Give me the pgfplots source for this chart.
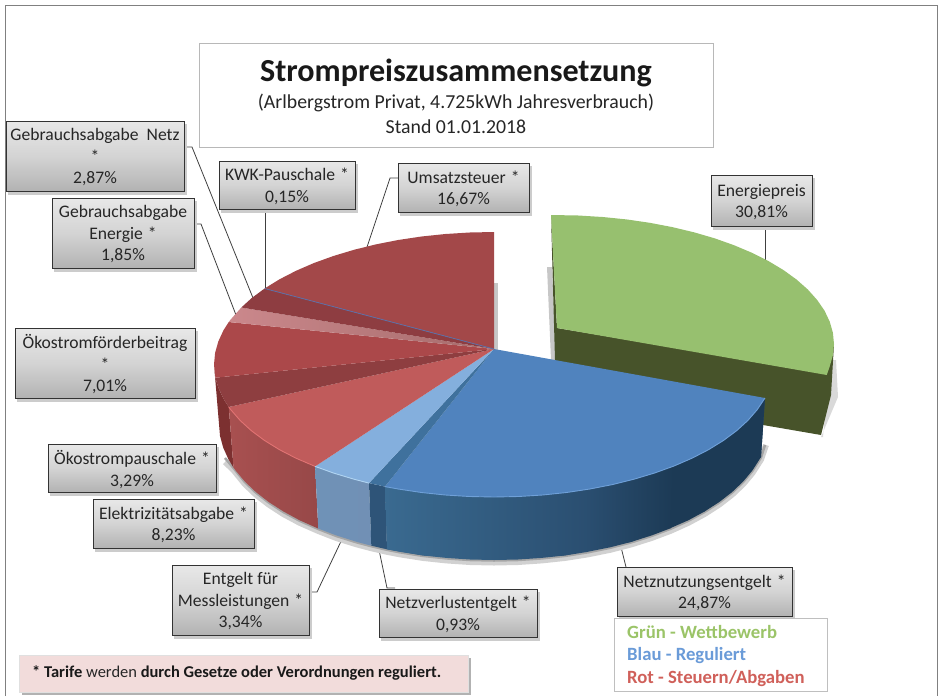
\documentclass[border=0pt]{standalone}
\usepackage{pgfplots}
\pgfplotsset{compat=1.18}
\usepackage{fontspec}
\setmainfont{Carlito}
\definecolor{cGreen}{HTML}{97C06F}
\definecolor{cGreenD}{HTML}{47532A}
\definecolor{cBlue}{HTML}{5083BE}
\definecolor{cBlueL}{HTML}{84AFDD}
\definecolor{cBlueM}{HTML}{3F719D}
\definecolor{cUms}{HTML}{A34849}
\definecolor{cGN}{HTML}{8E3D41}
\definecolor{cFoer}{HTML}{AB484A}
\definecolor{cPau}{HTML}{8E3E40}
\definecolor{cElek}{HTML}{C05B5B}
\definecolor{txt}{HTML}{262626}
\definecolor{HTMLside1}{HTML}{7C3030}
\definecolor{HTMLside2}{HTML}{A85050}
\definecolor{HTMLside3}{HTML}{974848}
\definecolor{HTMLside4}{HTML}{6F92B7}
\definecolor{HTMLside5}{HTML}{7190B5}
\definecolor{HTMLside6}{HTML}{2E5478}
\definecolor{HTMLside7}{HTML}{3A6A90}
\definecolor{HTMLside8}{HTML}{2A4E70}
\definecolor{HTMLside9}{HTML}{1C3A55}
\definecolor{HTMLen1}{HTML}{CB888C}
\definecolor{HTMLen2}{HTML}{A66C6C}
\definecolor{HTMLkwk}{HTML}{5B6FA8}
\definecolor{HTMLhi1}{HTML}{E07272}
\definecolor{HTMLhi2}{HTML}{B0D4F2}
\definecolor{HTMLhi3}{HTML}{6FA0D8}
\definecolor{HTMLlg1}{HTML}{9BC468}
\definecolor{HTMLlg2}{HTML}{6A9BD8}
\definecolor{HTMLlg3}{HTML}{D0605A}
\definecolor{HTMLnote}{HTML}{F2DCDB}
\newcommand{\lbox}[5]{%
  \fill[black!20] (axis cs:#1+2,#2+3) rectangle (axis cs:#3+2.5,#4+3.5);
  \draw[draw=black!80,line width=1pt,top color=black!9,bottom color=black!30,middle color=black!17]
     (axis cs:#1,#2) rectangle (axis cs:#3,#4);
  \path (axis cs:#1,#2) rectangle node[align=center,inner sep=0pt,yshift=-1.5pt,text=txt,font=\fontsize{17.6}{21.5}\selectfont]{#5} (axis cs:#3,#4);}
\newcommand{\st}{\hspace{5pt}*}
\begin{document}
\begin{tikzpicture}
\begin{axis}[at={(0,0)},anchor=south west,width=939pt,height=696pt,scale only axis,hide axis,
  xmin=0,xmax=939,ymin=0,ymax=696,y dir=reverse,clip=false,no markers]
\path (axis cs:0,0) rectangle (axis cs:939,696);
% frame
\addplot[draw=black!50,line width=1pt] coordinates {(5.5,696)(5.5,5.5)(937,5.5)(937,696)};
% title box
\draw[draw=black!28,line width=.8pt,fill=white] (axis cs:199,43.5) rectangle (axis cs:713,147.5);
\node[font=\fontsize{32.1}{36}\bfseries\selectfont,text=black!90] at (axis cs:456,72.5) {Strompreiszusammensetzung};
\node[font=\fontsize{19.8}{22}\selectfont,text=txt] at (axis cs:456,103) {(Arlbergstrom Privat, 4.725kWh Jahresverbrauch)};
\node[font=\fontsize{19.8}{22}\selectfont,text=txt] at (axis cs:456,127) {Stand 01.01.2018};
% leader lines
\addplot[draw=black!75,line width=.8pt] coordinates {(765.5,226)(765.5,263)};
\addplot[draw=black!75,line width=.8pt] coordinates {(398,178)(390,178)(367,247)};
\addplot[draw=black!75,line width=.8pt] coordinates {(265,209)(265,288)};
\addplot[draw=black!75,line width=.8pt] coordinates {(184,147)(192,147)(253,298)};
\addplot[draw=black!75,line width=.8pt] coordinates {(194,224)(201,224)(236,315)};
\addplot[draw=black!75,line width=.8pt] coordinates {(378,545)(387,588)(395,588)};
\addplot[draw=black!75,line width=.8pt] coordinates {(344,535)(317,592)(309,592)};
\addplot[draw=black!75,line width=.8pt] coordinates {(620,543)(626,567)};
% soft shadows
\addplot[draw=none,fill=black!22] coordinates {(547,267)(552,267)(556,362)(551,360)};
\addplot[draw=none,fill=black!22] coordinates {(494,283)(498,283)(498,351)(494,351)};
\addplot[draw=none,fill=black!15] coordinates {(821,437)(838,397)(836,360)(830,360)(823,437)};
\addplot[draw=black!18,line width=6pt] coordinates {(225,462)(233.5,470)(244.8,484)(255.8,494.5)(268.7,504.5)(283.3,514)(299.5,522.7)(318.3,531)(336.3,538)(356.5,544.3)(371.3,548.2)(387,551.8)(399.9,554.3)(422.8,557.9)(446.3,560.4)(470,562)(494,562.5)(518,562)(541.7,560.4)(565.2,557.9)(588.1,554.3)(610.2,549.8)(631.5,544.3)(651.7,537.9)(670.8,530.7)(688.5,522.7)(704.7,513.9)(719.3,504.5)(732.2,494.5)(743.2,484)(752.4,473)(761,459.5)(766,445)};
\addplot[draw=black!35,line width=2.5pt] coordinates {(225,458)(233.5,468)(244.8,482)(255.8,492.5)(268.7,502.5)(283.3,512)(299.5,520.7)(318.3,529)(336.3,536)(356.5,542.3)(371.3,546.2)(387,549.8)(399.9,552.3)(422.8,555.9)(446.3,558.4)(470,560)(494,560.5)(518,560)(541.7,558.4)(565.2,555.9)(588.1,552.3)(610.2,547.8)(631.5,542.3)(651.7,535.9)(670.8,528.7)(688.5,520.7)(704.7,511.9)(719.3,502.5)(732.2,492.5)(743.2,482)(752.4,471)(761,457.5)(765,445)};
% Energiepreis side, then top
\addplot[draw=none,fill=cGreenD] coordinates {(551,215)(557,328)(826.8,373)(834,344)(831,395)(826,415)(821,435)(763,425)(700,414)(556,392)(555,360)} --cycle;
\addplot[draw=none,fill=cGreen] coordinates {(557,328)(551,215)(578.4,215.5)(602.6,217)(626.5,219.4)(649.8,222.8)(672.3,227.1)(694,232.3)(714.6,238.3)(734,245.2)(752,252.8)(768.5,261.1)(783.4,270)(796.5,279.5)(807.8,289.5)(817.1,299.9)(824.5,310.6)(829.7,321.6)(832.9,332.8)(834,344)(832.9,355.2)(829.7,366.4)(826.8,375)} --cycle;
% side walls of the main pie
\addplot[draw=none,fill=HTMLside1] coordinates {(214,364.5)(215.4,377.7)(218.3,387.5)(223.5,398.8)(228.8,407)(233.5,467.6)(228.4,459.2)(223.2,447.6)(220,435.9)(219,424)} --cycle;
\addplot[draw=none,left color=HTMLside2,right color=HTMLside3] coordinates {(228.8,407)(230.9,409.8)(240.2,420.5)(251.5,430.8)(264.6,440.5)(279.5,449.7)(296,458.2)(315.1,466.4)(318.3,528.6)(299.5,520.2)(283.3,511.4)(268.7,502)(255.8,492)(244.8,481.5)(235.6,470.5)(233.5,467.6)} --cycle;
\addplot[draw=none,left color=HTMLside4,right color=HTMLside5] coordinates {(315.1,466.4)(333.4,473)(354,479.2)(369,483.1)(371.3,545.7)(356.5,541.8)(336.3,535.4)(318.3,528.6)} --cycle;
\addplot[draw=none,fill=HTMLside6] coordinates {(369,483.1)(385,486.6)(387,549.3)(371.3,545.7)} --cycle;
\addplot[draw=none,fill=HTMLside8] coordinates {(385,486.6)(589.8,489)(674,466)(765,398)(761,457)(704.7,511.4)(631.5,541.8)(565.2,555.4)(494,560)(422.8,555.4)(387,549.3)} --cycle;
\addplot[draw=none,left color=HTMLside7,right color=HTMLside8] coordinates {(385,486.6)(398.2,489)(421.5,492.5)(445.4,495)(469.6,496.5)(494,497)(518.4,496.5)(542.6,495)(566.5,492.5)(589.8,489)(588.1,551.8)(565.2,555.4)(541.7,557.9)(518,559.5)(494,560)(470,559.5)(446.3,557.9)(422.8,555.4)(399.9,551.8)(387,549.3)} --cycle;
\addplot[draw=none,left color=HTMLside8,right color=HTMLside9] coordinates {(589,489)(612.3,484.6)(634,479.2)(654.6,473)(674,466)(670.8,528.2)(651.7,535.4)(631.5,541.8)(610.2,547.3)(587.5,551.8)} --cycle;
\addplot[draw=none,fill=HTMLside9] coordinates {(673,466)(692,458.2)(708.5,449.7)(723.4,440.5)(736.5,430.8)(747.8,420.5)(757.1,409.8)(765,398)(761,457)(752.4,470.5)(743.2,481.5)(732.2,492)(719.3,502)(704.7,511.4)(688.5,520.2)(670.2,528.2)} --cycle;
% top faces
\addplot[draw=none,fill=cBlue] coordinates {(494,349)(765,398)(757.1,409.8)(747.8,420.5)(736.5,430.8)(723.4,440.5)(708.5,449.7)(692,458.2)(674,466)(654.6,473)(634,479.2)(612.3,484.6)(589.8,489)(566.5,492.5)(542.6,495)(518.4,496.5)(494,497)(469.6,496.5)(445.4,495)(421.5,492.5)(398.2,489)(385,486.6)} --cycle;
\addplot[draw=none,fill=cBlueM] coordinates {(494,349)(385,486.6)(369,483.1)} --cycle;
\addplot[draw=none,fill=cBlueL] coordinates {(494,349)(369,483.1)(354,479.2)(333.4,473)(315.1,466.4)} --cycle;
\addplot[draw=none,fill=cElek] coordinates {(494,349)(315.1,466.4)(296,458.2)(279.5,449.7)(264.6,440.5)(251.5,430.8)(240.2,420.5)(230.9,409.8)(228.8,407)} --cycle;
\addplot[draw=none,fill=cPau] coordinates {(494,349)(228.8,407)(223.5,398.8)(218.3,387.5)(215.4,377.7)} --cycle;
\addplot[draw=none,fill=cFoer] coordinates {(494,349)(215.4,377.7)(214,364.5)(215.1,352.9)(218.3,341.5)(223.5,330.2)(228.8,322)} --cycle;
\addplot[draw=none,left color=HTMLen1,right color=HTMLen2] coordinates {(494,349)(228.8,322)(230.9,319.2)(241.3,307.5)} --cycle;
\addplot[draw=none,fill=cGN] coordinates {(494,349)(241.3,307.5)(251.5,298.2)(264.6,288.5)} --cycle;
\addplot[draw=none,fill=cUms] coordinates {(494,349)(264.6,288.5)(279.5,279.3)(296,270.8)(314,263)(333.4,256)(354,249.8)(375.7,244.4)(398.2,240)(421.5,236.5)(445.4,234)(469.6,232.5)(494,232)} --cycle;
\addplot[draw=HTMLkwk,line width=.8pt] coordinates {(494,349)(264.6,288.5)};
% rim highlights
\addplot[draw=HTMLhi1,line width=.9pt] coordinates {(228.8,407)(230.9,409.8)(240.2,420.5)(251.5,430.8)(264.6,440.5)(279.5,449.7)(296,458.2)(315.1,466.4)};
\addplot[draw=HTMLhi2,line width=.9pt] coordinates {(315.1,466.4)(333.4,473)(354,479.2)(369,483.1)};
\addplot[draw=HTMLhi3,line width=.9pt] coordinates {(385,486.6)(398.2,489)(421.5,492.5)(445.4,495)(469.6,496.5)(494,497)(518.4,496.5)(542.6,495)(566.5,492.5)(589.8,489)(612.3,484.6)(634,479.2)(654.6,473)(674,466)(692,458.2)(708.5,449.7)(723.4,440.5)(736.5,430.8)(747.8,420.5)(757.1,409.8)(765,398)};
% labels
\lbox{6}{121}{184}{191}{Gebrauchsabgabe~~Netz\\{*}\\2,87\%}
\lbox{219}{161}{355}{209}{KWK-Pauschale\st\\0,15\%}
\lbox{398}{163}{529}{212}{Umsatzsteuer\st\\16,67\%}
\lbox{52}{198}{194}{268}{Gebrauchsabgabe\\Energie\st\\1,85\%}
\lbox{15}{328}{195}{398}{Ökostromförderbeitrag\\{*}\\7,01\%}
\lbox{48}{444}{216}{492}{Ökostrompauschale\st\\3,29\%}
\lbox{93}{499}{254}{548}{Elektrizitätsabgabe\st\\8,23\%}
\lbox{172}{565}{309}{635}{Entgelt für\\Messleistungen\st\\3,34\%}
\lbox{379}{589}{537}{637}{Netzverlustentgelt\st\\0,93\%}
\lbox{617}{567}{792}{616}{Netznutzungsentgelt\st\\24,87\%}
\lbox{711}{175}{812}{226}{Energiepreis\\30,81\%}
% legend
\draw[draw=black!25,line width=.8pt,fill=white] (axis cs:614.5,618) rectangle (axis cs:827,691);
\node[anchor=west,inner sep=0pt,font=\fontsize{18.7}{20}\bfseries\selectfont,text=HTMLlg1] at (axis cs:627,632) {Grün - Wettbewerb};
\node[anchor=west,inner sep=0pt,font=\fontsize{18.7}{20}\bfseries\selectfont,text=HTMLlg2] at (axis cs:627,656) {Blau - Reguliert};
\node[anchor=west,inner sep=0pt,font=\fontsize{18.7}{20}\bfseries\selectfont,text=HTMLlg3] at (axis cs:627,679) {Rot - Steuern/Abgaben};
% note
\fill[black!30] (axis cs:22,658) rectangle (axis cs:471,695);
\draw[draw=black!12,line width=.8pt,fill=HTMLnote] (axis cs:19,655) rectangle (axis cs:468,692);
\node[anchor=west,inner sep=0pt,font=\fontsize{16.5}{18}\selectfont,text=black!90] at (axis cs:32,673) {\textbf{* Tarife} {\color{txt}werden} \textbf{durch Gesetze oder Verordnungen reguliert.}};
\end{axis}
\end{tikzpicture}
\end{document}
